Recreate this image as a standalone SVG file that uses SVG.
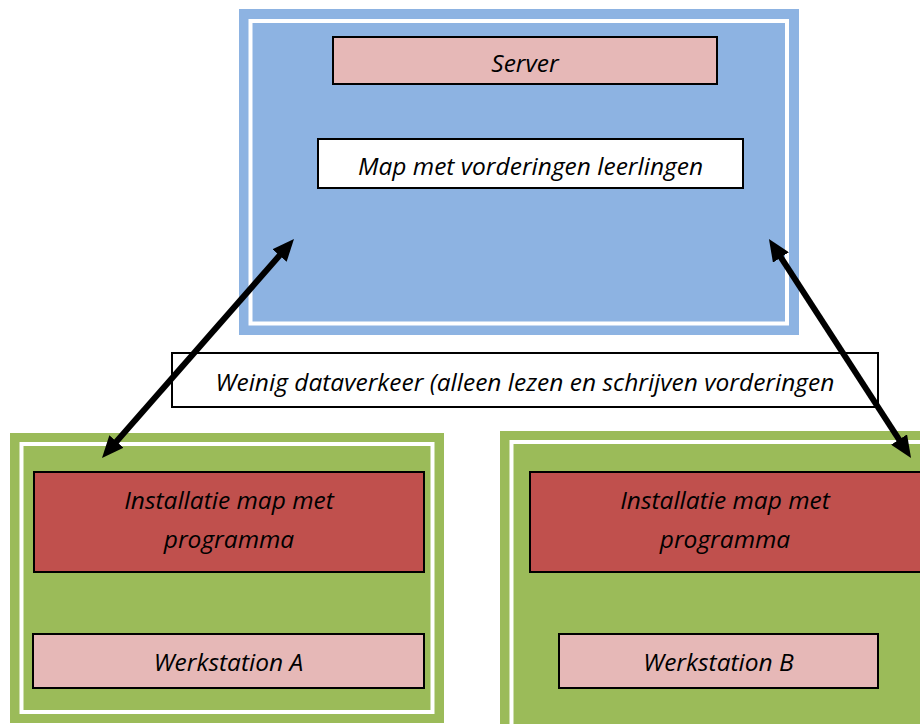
<svg xmlns="http://www.w3.org/2000/svg" width="920" height="724" viewBox="0 0 920 724">
<style>
text{font-family:"Open Sans","Noto Sans","Liberation Sans",sans-serif;font-style:italic;font-size:24.5px;fill:#000;text-anchor:middle}
.box{stroke:#000;stroke-width:2}
.pink{fill:#E6B8B7}
.red{fill:#C0504D}
.white{fill:#fff}
.inner{fill:none;stroke:#fff;stroke-width:4}
.arrow{stroke:#000;stroke-width:6;fill:none;marker-start:url(#ah);marker-end:url(#ah)}
</style>
<defs>
<marker id="ah" viewBox="0 0 22 19" refX="12" refY="9.5" markerWidth="22" markerHeight="19" markerUnits="userSpaceOnUse" orient="auto-start-reverse">
<path d="M0,0 L22,9.5 L0,19 Z" fill="#000"/>
</marker>
</defs>
<rect width="920" height="724" fill="#fff"/>
<g id="server-container">
<rect x="239" y="9" width="560" height="326" fill="#8DB3E2"/>
<rect x="250.5" y="21" width="536.5" height="302.5" class="inner"/>
</g>
<g id="server">
<rect x="333" y="37" width="384" height="47" class="box pink"/>
<text x="525" y="72">Server</text>
</g>
<g id="map-vorderingen">
<rect x="318" y="139" width="425" height="49" class="box white"/>
<text x="530.5" y="175">Map met vorderingen leerlingen</text>
</g>
<g id="workstation-a-container">
<rect x="10" y="433" width="434" height="290" fill="#9BBB59"/>
<rect x="21.5" y="444" width="411" height="268" class="inner"/>
</g>
<g id="installatie-a">
<rect x="34" y="472" width="390" height="100" class="box red"/>
<text x="229" y="509">Installatie map met</text>
<text x="229" y="548">programma</text>
</g>
<g id="werkstation-a">
<rect x="33" y="634" width="391" height="54" class="box pink"/>
<text x="228.5" y="671">Werkstation A</text>
</g>
<g id="workstation-b-container">
<rect x="500" y="431" width="440" height="313" fill="#9BBB59"/>
<rect x="511.5" y="442" width="440" height="300" class="inner"/>
</g>
<g id="installatie-b">
<rect x="530" y="472" width="400" height="100" class="box red"/>
<text x="725" y="509">Installatie map met</text>
<text x="725" y="548">programma</text>
</g>
<g id="werkstation-b">
<rect x="559" y="634" width="319" height="54" class="box pink"/>
<text x="718.5" y="671">Werkstation B</text>
</g>
<g id="label-dataverkeer">
<rect x="172" y="353" width="706" height="54" class="box white"/>
<text x="525" y="391">Weinig dataverkeer (alleen lezen en schrijven vorderingen</text>
</g>
<g id="connectors">
<line x1="108.6" y1="450.5" x2="287.4" y2="246.5" class="arrow"/>
<line x1="774.4" y1="247.4" x2="905.6" y2="449.6" class="arrow"/>
</g>
</svg>
